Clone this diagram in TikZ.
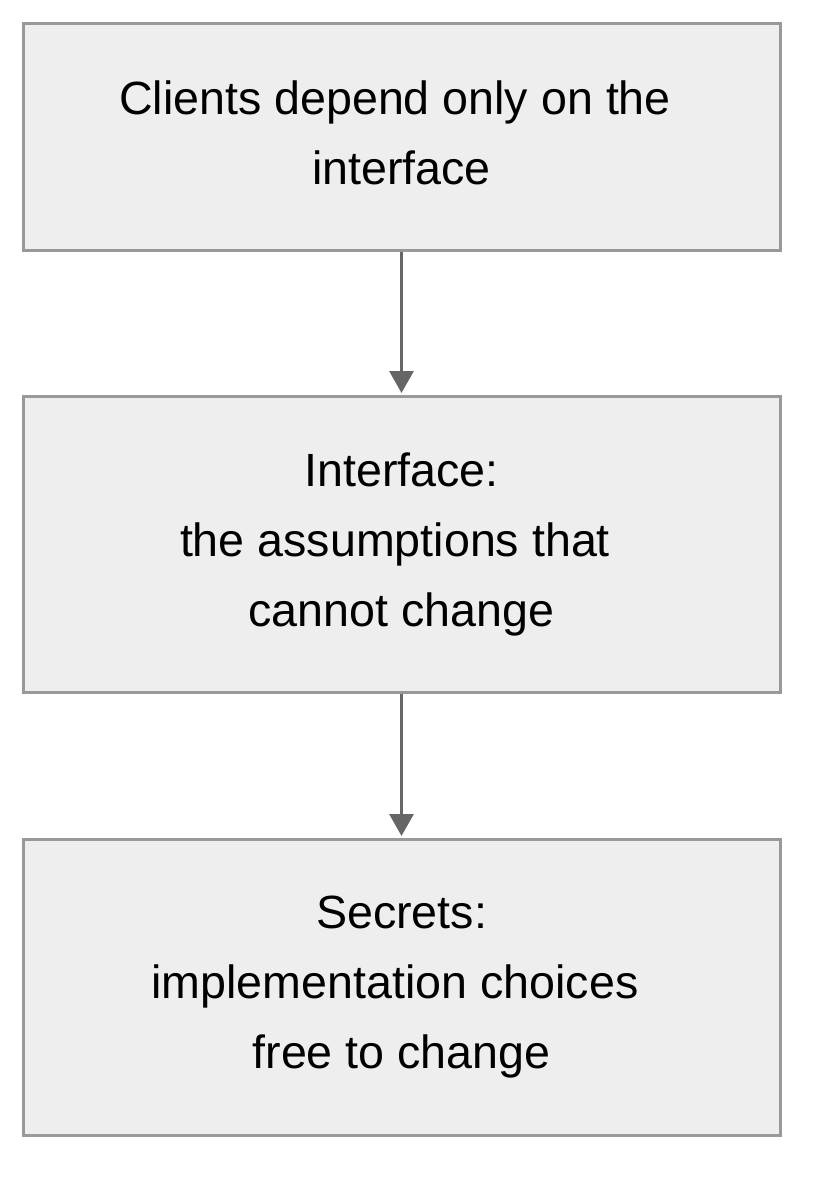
\documentclass[tikz,border=0pt]{standalone}
\usepackage{fontspec}
\setmainfont{Liberation Sans}
\usetikzlibrary{arrows.meta}
\definecolor{boxfill}{HTML}{EEEEEE}
\definecolor{boxline}{HTML}{999999}
\definecolor{arrowcol}{HTML}{666666}
\begin{document}
\begin{tikzpicture}[x=1pt,y=-1pt,
  box/.style={draw=boxline, fill=boxfill, line width=3pt, minimum width=757pt, inner sep=0pt, align=center, font=\fontsize{46.6}{70}\selectfont},
  conn/.style={draw=arrowcol, line width=3pt, -{Triangle[width=24pt,length=22pt]}}]
\useasboundingbox (0,0) rectangle (828,1194);
\newcommand{\trail}{\hbox to 13pt{}}
\node[box, minimum height=227pt, text depth=8pt] (b1) at (401.5,136.5) {Clients depend only on the\trail\\interface};
\node[box, minimum height=296pt] (b2) at (401.5,544) {Interface:\\the assumptions that\trail\\cannot change};
\node[box, minimum height=296pt] (b3) at (401.5,987) {Secrets:\\implementation choices\trail\\free to change};
\draw[conn] (b1.south) -- ([yshift=1.5pt]b2.north);
\draw[conn] (b2.south) -- ([yshift=1.5pt]b3.north);
\end{tikzpicture}
\end{document}
